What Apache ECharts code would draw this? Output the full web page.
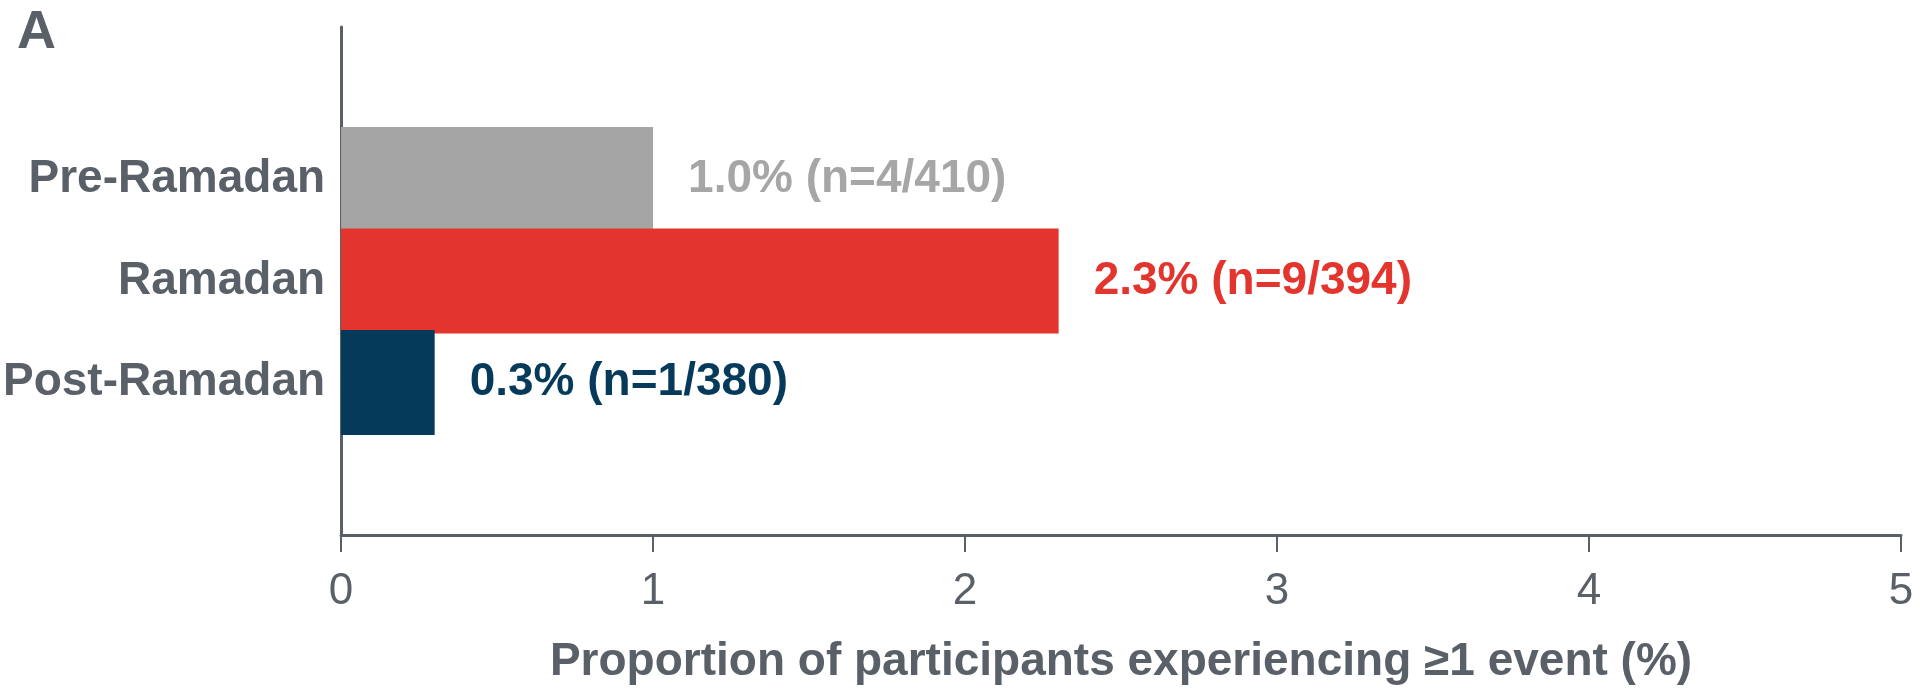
<!DOCTYPE html>
<html>
<head>
<meta charset="utf-8">
<script src="https://cdn.jsdelivr.net/npm/echarts@6/dist/echarts.min.js"></script>
<style>
html,body{margin:0;padding:0;background:#fff;}
#chart{width:1920px;height:696px;}
</style>
</head>
<body>
<div id="chart"></div>
<script>
// Data
const categories = ['Pre-Ramadan', 'Ramadan', 'Post-Ramadan'];
const values = [1.0, 2.3, 0.3];
const counts = ['4/410', '9/394', '1/380'];
const xTicks = [0, 1, 2, 3, 4, 5];
const xTitle = 'Proportion of participants experiencing \u22651 event (%)';
const panelLetter = 'A';

// Styles
const barColors = ['#a5a5a5', '#e3342d', '#063a5a'];
const labelColors = ['#a6a6a6', '#e3342d', '#063a5a'];
const textColor = '#5a6068';
const FONT = '"Liberation Sans", Arial, Helvetica, sans-serif';

// pad the category axis with an empty slot at each end
const axisCats = [''].concat(categories, ['']);
const seriesData = [null].concat(values.map((v, i) => ({
  value: v,
  itemStyle: { color: barColors[i] },
  label: { color: labelColors[i] }
})), [null]);

const chart = echarts.init(document.getElementById('chart'), null, { renderer: 'canvas' });
chart.setOption({
  backgroundColor: '#ffffff',
  animation: false,
  textStyle: { fontFamily: FONT },
  graphic: [{
    type: 'text',
    left: 17,
    top: 6,
    style: { text: panelLetter, font: 'bold 54px ' + FONT, fill: textColor }
  }],
  grid: { left: 341, right: 19, top: 27, bottom: 161, containLabel: false },
  xAxis: {
    type: 'value',
    min: xTicks[0],
    max: xTicks[xTicks.length - 1],
    interval: 1,
    splitLine: { show: false },
    axisLine: { show: true, lineStyle: { color: textColor, width: 3 } },
    axisTick: { show: true, length: 17, lineStyle: { color: textColor, width: 2 } },
    axisLabel: { fontSize: 44, color: textColor, margin: 35, fontFamily: FONT },
    name: xTitle,
    nameLocation: 'middle',
    nameGap: 104,
    nameTextStyle: { fontSize: 46, fontWeight: 'bold', color: textColor, fontFamily: FONT }
  },
  yAxis: {
    type: 'category',
    inverse: true,
    data: axisCats,
    axisLine: { show: true, lineStyle: { color: textColor, width: 3 } },
    axisTick: { show: false },
    axisLabel: { fontSize: 46, fontWeight: 'bold', color: textColor, margin: 16, fontFamily: FONT }
  },
  series: [{
    type: 'bar',
    data: seriesData,
    barWidth: 105,
    label: {
      show: true,
      position: 'right',
      distance: 35,
      fontSize: 46,
      fontWeight: 'bold',
      fontFamily: FONT,
      formatter: p => {
        const i = p.dataIndex - 1;
        return values[i].toFixed(1) + '% (n=' + counts[i] + ')';
      }
    }
  }]
});
</script>
</body>
</html>
